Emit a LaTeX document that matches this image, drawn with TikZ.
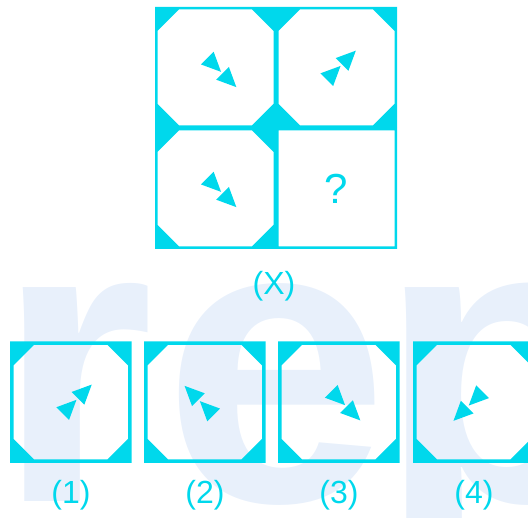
\documentclass[tikz,border=0pt]{standalone}
\usepackage{fontspec}
\setmainfont{Liberation Sans}
\usepackage{xcolor}
\definecolor{aqua}{RGB}{0,216,236}
\definecolor{wmblue}{RGB}{232,240,251}

\begin{document}
\begin{tikzpicture}[x=1pt,y=1pt,
  frame/.style={fill=aqua, even odd rule},
  tri/.style={fill=aqua},
  lbl/.style={text=aqua, font=\fontsize{32}{32}\selectfont, inner sep=0pt},
  wm/.style={text=wmblue, font=\fontsize{405}{405}\selectfont\bfseries, inner sep=0pt, anchor=base west}
]
\useasboundingbox (0,0) rectangle (528,518);
\clip (0,0) rectangle (528,518);

% Marca de agua
\node[wm] (wmr) at (-4,16) {r};
\node[wm] (wme) at (163,16) {e};
\node[wm] (wmp) at (378,16) {p};

% Figura (X)
\foreach \x/\y in {155/390, 276/390, 155/269} {
  \fill[frame] (\x,\y) rectangle ++(121,121)
    (\x+2.5,\y+24) -- (\x+2.5,\y+97) -- (\x+24,\y+118.5) -- (\x+97,\y+118.5)
    -- (\x+118.5,\y+97) -- (\x+118.5,\y+24) -- (\x+97,\y+2.5) -- (\x+24,\y+2.5) -- cycle;
}
\fill[frame] (276,269) rectangle ++(121,121) (278.5,271.5) rectangle (394.5,387.5);
\node[lbl, font=\fontsize{42}{42}\selectfont] (qm) at (336.5,329.5) {?};
\node[lbl] (xlbl) at (274,231.3) {(X)};

% Alternativas
\foreach \x/\lab in {10/1, 144/2, 278/3, 413/4} {
  \fill[frame] (\x,55) rectangle ++(121.5,121.5)
    (\x+3.5,79) -- (\x+3.5,152.5) -- (\x+24,173) -- (\x+97.5,173)
    -- (\x+118,152.5) -- (\x+118,79) -- (\x+97.5,58.5) -- (\x+24,58.5) -- cycle;
  \node[lbl] (opt\lab) at (\x+61,22.5) {(\lab)};
}

% Flechas
\foreach \cx/\cy/\ang in {219.5/447.7/-45, 339/450.5/45, 219.5/327.7/-45,
    74.9/116.6/45, 201.4/115.3/135, 343.5/114.4/-45, 470.3/114/-135} {
  \foreach \s in {-10.8,10.8}
    \fill[tri, shift={(\cx,\cy)}, rotate=\ang] (\s+13,0) -- (\s-6.5,9) -- (\s-6.5,-9) -- cycle;
}
\end{tikzpicture}
\end{document}
